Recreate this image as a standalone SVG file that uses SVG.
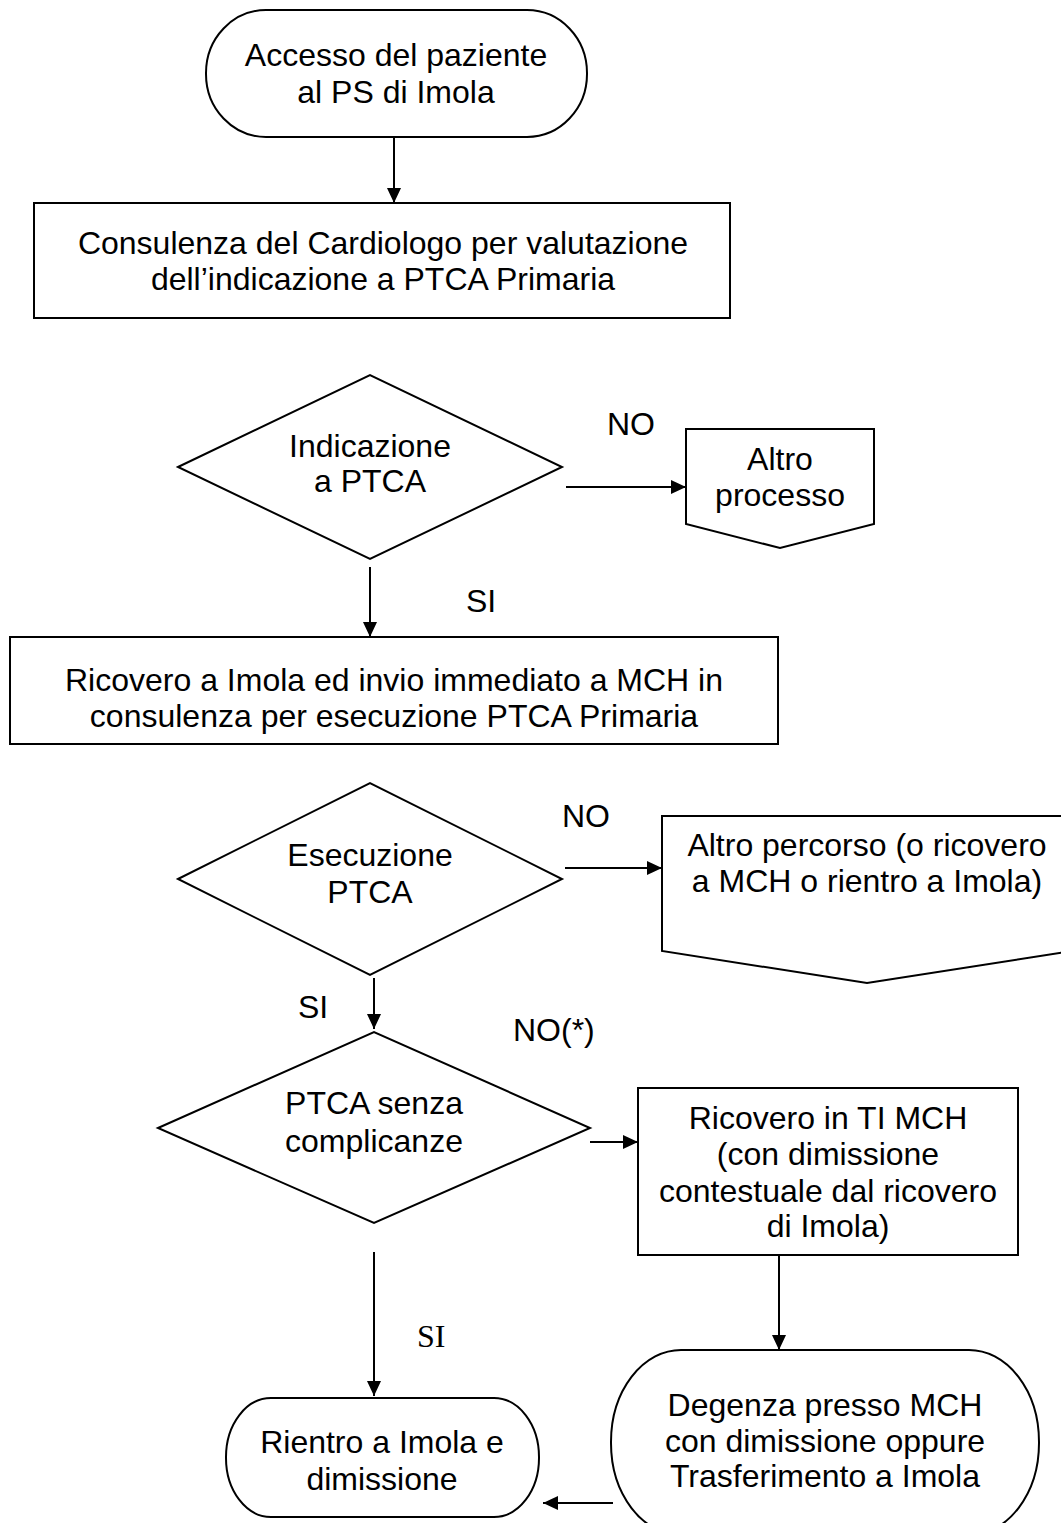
<svg xmlns="http://www.w3.org/2000/svg" width="1061" height="1523" viewBox="0 0 1061 1523">
<style>
.s{fill:#fff;stroke:#000;stroke-width:2}
.t{font-family:"Liberation Sans",Arial,sans-serif;font-size:32px;fill:#000;text-anchor:middle}
.l{font-family:"Liberation Sans",Arial,sans-serif;font-size:32px;fill:#000}
.ls{font-family:"Liberation Serif","Times New Roman",serif;font-size:32px;fill:#000}
.c{stroke:#000;stroke-width:2;fill:none;marker-end:url(#ah)}
</style>
<defs>
<marker id="ah" markerWidth="15" markerHeight="14" refX="15" refY="7" orient="auto" markerUnits="userSpaceOnUse">
<path d="M0,0 L15,7 L0,14 z" fill="#000"/>
</marker>
</defs>
<rect width="1061" height="1523" fill="#fff"/>

<g id="n1">
<rect class="s" x="206" y="10" width="381" height="127" rx="60" ry="63"/>
<text class="t" x="396" y="66">Accesso del paziente</text>
<text class="t" x="396" y="103">al PS di Imola</text>
</g>

<g id="n2">
<rect class="s" x="34" y="203" width="696" height="115"/>
<text class="t" x="383" y="254">Consulenza del Cardiologo per valutazione</text>
<text class="t" x="383" y="290">dell’indicazione a PTCA Primaria</text>
</g>

<g id="n3">
<polygon class="s" points="178,467 370,375 562,467 370,559"/>
<text class="t" x="370" y="457">Indicazione</text>
<text class="t" x="370" y="492">a PTCA</text>
</g>

<g id="n4">
<polygon class="s" points="686,429 874,429 874,524 780,548 686,524"/>
<text class="t" x="780" y="470">Altro</text>
<text class="t" x="780" y="506">processo</text>
</g>

<g id="n5">
<rect class="s" x="10" y="637" width="768" height="107"/>
<text class="t" x="394" y="691">Ricovero a Imola ed invio immediato a MCH in</text>
<text class="t" x="394" y="727">consulenza per esecuzione PTCA Primaria</text>
</g>

<g id="n6">
<polygon class="s" points="178,879 370,783 562,879 370,975"/>
<text class="t" x="370" y="866">Esecuzione</text>
<text class="t" x="370" y="903">PTCA</text>
</g>

<g id="n7">
<polygon class="s" points="662,816 1072,816 1072,951 867,983 662,951"/>
<text class="t" x="867" y="856">Altro percorso (o ricovero</text>
<text class="t" x="867" y="892">a MCH o rientro a Imola)</text>
</g>

<g id="n8">
<polygon class="s" points="158,1128 374,1032 590,1128 374,1223"/>
<text class="t" x="374" y="1114">PTCA senza</text>
<text class="t" x="374" y="1152">complicanze</text>
</g>

<g id="n9">
<rect class="s" x="638" y="1088" width="380" height="167"/>
<text class="t" x="828" y="1129">Ricovero in TI MCH</text>
<text class="t" x="828" y="1165">(con dimissione</text>
<text class="t" x="828" y="1202">contestuale dal ricovero</text>
<text class="t" x="828" y="1237">di Imola)</text>
</g>

<g id="n10">
<rect class="s" x="611" y="1350" width="428" height="185" rx="70" ry="92"/>
<text class="t" x="825" y="1416">Degenza presso MCH</text>
<text class="t" x="825" y="1452">con dimissione oppure</text>
<text class="t" x="825" y="1487">Trasferimento a Imola</text>
</g>

<g id="n11">
<rect class="s" x="226" y="1398" width="313" height="119" rx="45" ry="59"/>
<text class="t" x="382" y="1453">Rientro a Imola e</text>
<text class="t" x="382" y="1490">dimissione</text>
</g>

<g id="connectors">
<line class="c" x1="394" y1="137" x2="394" y2="203"/>
<line class="c" x1="566" y1="487" x2="686" y2="487"/>
<line class="c" x1="370" y1="567" x2="370" y2="637"/>
<line class="c" x1="565" y1="868" x2="662" y2="868"/>
<line class="c" x1="374" y1="978" x2="374" y2="1029"/>
<line class="c" x1="590" y1="1142" x2="638" y2="1142"/>
<line class="c" x1="374" y1="1252" x2="374" y2="1396"/>
<line class="c" x1="779" y1="1255" x2="779" y2="1350"/>
<line class="c" x1="613" y1="1503" x2="543" y2="1503"/>
</g>

<g id="labels">
<text class="l" x="607" y="435">NO</text>
<text class="l" x="466" y="612">SI</text>
<text class="l" x="562" y="827">NO</text>
<text class="l" x="298" y="1018">SI</text>
<text class="l" x="513" y="1041">NO(*)</text>
<text class="ls" x="417" y="1347">SI</text>
</g>
</svg>
